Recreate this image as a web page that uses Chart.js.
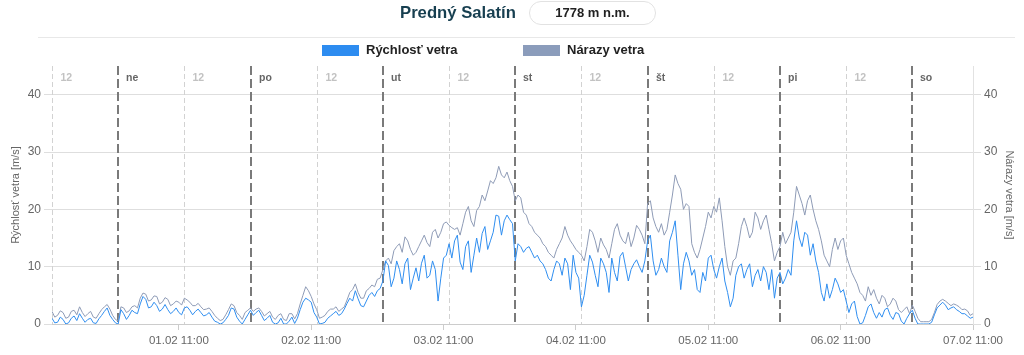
<!DOCTYPE html>
<html><head><meta charset="utf-8">
<script src="https://cdn.jsdelivr.net/npm/chart.js@4/dist/chart.umd.min.js"></script>
<style>
html,body{margin:0;padding:0;background:#fff;width:1024px;height:355px;overflow:hidden;font-family:"Liberation Sans",Arial,Helvetica,sans-serif;}
#wrap{position:relative;width:1024px;height:355px;}
canvas{position:absolute;left:0;top:0;}
.title{position:absolute;left:400px;top:4px;font-size:16.7px;font-weight:bold;color:#173f50;line-height:18px;white-space:nowrap;}
.badge{position:absolute;left:529px;top:1px;width:125px;height:22px;border:1px solid #e2e2e2;border-radius:12px;text-align:center;font-size:13px;font-weight:bold;color:#222;line-height:22px;}
.sep{position:absolute;left:38px;top:37px;width:977px;height:1px;background:#e8e8e8;}
.box{position:absolute;top:45px;width:37px;height:11px;}
.lg{position:absolute;top:42px;height:16px;line-height:16px;font-size:13px;font-weight:bold;color:#222;white-space:nowrap;}
</style></head>
<body>
<div id="wrap">
<canvas id="c" width="1024" height="355"></canvas>
<div class="title">Predný Salatín</div>
<div class="badge">1778 m n.m.</div>
<div class="sep"></div>
<div class="box" style="left:322px;background:#2d8cf0"></div>
<div class="lg" style="left:366px">Rýchlosť vetra</div>
<div class="box" style="left:523px;background:#8b9cbb"></div>
<div class="lg" style="left:567px">Nárazy vetra</div>
</div>
<script>
// half-hourly readings, starting 31.01 12:00 (one line per day segment)
const speed = [
1.0,0.2,0.3,1.2,0.8,0.0,0.2,1.0,1.4,0.6,1.8,1.0,0.3,0.8,1.0,0.2,0.1,0.9,1.5,2.2,2.8,1.5,0.8,0.2,0.0,
2.5,1.8,0.8,1.5,2.4,2.0,1.8,3.5,4.8,4.3,2.8,3.0,3.8,3.2,2.2,2.6,3.4,2.5,1.8,2.2,2.8,2.0,1.6,2.8,3.0,2.4,1.6,2.2,2.6,2.0,1.4,1.6,2.0,1.2,0.5,0.3,0.0,0.2,0.8,1.5,2.8,2.6,1.2,0.5,0.0,0.8,1.6,2.4,
1.5,2.0,2.4,1.5,0.6,1.0,1.5,0.3,0.0,0.2,1.0,0.0,0.0,0.5,1.2,0.1,1.0,2.5,3.8,4.5,4.2,3.8,2.0,1.2,0.0,0.1,0.3,1.0,1.4,1.8,2.2,1.5,1.8,2.6,3.6,4.5,4.0,5.8,4.4,3.2,3.0,4.0,5.0,5.5,4.8,5.8,6.2,7.5,
11.0,10.2,6.5,8.0,11.0,9.5,7.0,10.5,11.5,6.0,8.0,9.8,7.5,10.6,12.0,8.0,8.5,11.0,9.5,4.0,8.0,11.5,12.0,14.0,11.5,14.5,15.5,10.8,9.5,13.5,14.5,9.0,12.0,15.0,12.5,15.8,17.0,13.0,14.5,16.0,19.0,18.8,15.5,18.0,19.0,18.2,17.5,11.0,
14.0,13.5,12.5,13.2,13.5,12.5,11.5,12.0,11.0,10.5,9.5,8.0,7.5,9.5,11.0,10.5,8.5,11.5,10.5,6.0,12.0,9.0,8.0,3.0,5.0,8.5,12.0,10.8,8.5,6.5,11.5,10.5,9.0,5.5,11.5,9.0,7.5,11.8,12.5,10.0,7.5,9.5,10.5,11.2,10.0,9.0,11.0,14.5,
15.5,11.0,8.5,9.5,11.5,10.0,9.0,14.5,16.0,18.0,12.0,6.0,10.5,12.5,11.0,8.5,9.5,6.0,5.5,9.0,7.5,11.5,12.0,9.5,8.0,10.0,11.5,7.5,5.5,3.0,4.5,8.5,10.0,10.5,8.0,9.5,10.5,6.5,8.5,9.5,7.5,10.0,9.0,6.0,9.5,4.5,8.0,9.0,
7.0,8.0,9.5,8.5,14.5,18.0,15.0,13.5,16.0,15.5,12.0,14.0,11.0,9.0,5.5,4.0,7.0,4.5,6.0,8.0,7.0,5.5,6.0,4.0,2.0,3.5,4.0,1.3,0.0,0.2,1.5,3.0,3.5,2.0,1.0,2.0,1.2,2.5,2.8,1.5,0.8,2.0,1.8,0.5,0.0,1.0,1.8,2.4,
1.0,0.0,0.0,0.0,0.0,0.0,0.3,1.6,2.8,3.3,3.8,3.3,2.5,2.8,3.0,2.5,2.2,1.8,1.8,1.4,1.0,1.2
];
const gust = [
2.2,1.2,1.5,2.3,2.0,1.0,1.2,2.2,2.4,1.6,3.0,2.0,1.3,1.8,2.2,1.2,1.0,1.8,2.5,3.0,3.4,2.6,1.5,0.8,0.5,
3.0,2.8,2.0,2.3,3.0,3.2,2.8,4.5,5.4,5.2,4.0,4.2,4.9,4.8,3.5,3.8,4.6,4.3,3.2,3.5,4.0,3.8,3.3,4.5,4.2,3.8,3.2,3.2,3.6,3.0,2.5,2.6,2.8,2.2,1.5,1.0,0.6,0.8,1.6,2.5,3.5,3.2,2.0,1.5,0.8,2.0,2.4,2.8,
2.2,2.6,2.8,2.2,1.4,1.8,2.2,1.2,0.8,1.5,1.8,0.8,0.6,1.8,1.8,0.9,1.8,3.5,5.0,6.5,5.8,4.8,3.5,2.5,1.0,1.2,1.5,2.2,2.6,2.6,3.0,2.2,2.6,3.0,4.2,5.5,6.0,7.0,5.5,4.5,4.5,5.8,6.2,6.8,6.5,7.8,8.0,9.5,
11.0,11.5,10.5,12.8,13.5,14.0,12.5,15.2,14.5,13.0,12.0,12.5,13.5,14.5,15.5,14.2,13.5,16.0,16.5,15.0,16.0,17.5,17.8,17.2,16.8,16.5,16.8,15.5,17.5,19.5,20.5,18.0,17.0,19.8,20.5,22.5,21.5,23.2,25.0,24.5,25.5,27.5,26.0,25.5,26.5,25.0,24.0,21.5,
22.5,22.0,19.5,19.0,17.5,17.0,16.0,15.5,15.0,14.0,13.5,12.5,12.0,11.5,13.0,14.0,15.0,17.0,15.5,14.5,13.8,13.0,12.5,12.0,11.0,13.5,16.5,16.0,14.5,12.5,15.0,13.8,13.0,11.5,14.0,16.5,17.5,15.5,14.5,14.0,16.0,13.5,15.0,17.2,16.5,15.5,14.0,21.0,
21.5,18.5,17.0,16.0,17.5,15.5,16.5,19.5,22.5,26.0,24.5,23.5,20.0,21.0,20.5,14.0,12.5,11.5,13.0,15.0,17.0,19.5,18.5,20.5,19.5,22.0,18.0,13.5,10.0,8.5,11.0,11.5,14.0,17.0,18.5,17.0,15.0,16.0,19.5,18.5,16.5,18.0,19.0,16.5,14.0,11.0,12.5,13.5,
16.0,14.0,15.0,16.0,19.5,24.0,22.5,21.0,19.0,21.5,22.5,20.0,18.0,16.5,14.5,12.0,11.0,10.0,13.0,15.0,13.0,14.5,15.0,12.0,10.5,9.0,8.0,7.0,5.5,5.0,4.0,6.5,5.0,6.0,4.5,3.5,5.0,4.5,3.0,3.5,4.5,4.0,2.5,2.0,2.5,3.0,1.8,3.3,
2.2,1.0,0.4,0.4,0.4,0.4,0.8,2.0,3.4,4.0,4.3,4.0,3.6,3.2,3.5,3.3,3.0,2.5,2.6,2.3,1.5,1.8
];
const stepHours = 0.5;
const tickHours = [23,47,71,95,119,143,167];
const tickLabels = ['01.02 11:00','02.02 11:00','03.02 11:00','04.02 11:00','05.02 11:00','06.02 11:00','07.02 11:00'];
const dayHours = [12,36,60,84,108,132,156];
const dayLabels = ['ne','po','ut','st','št','pi','so'];
const noonHours = [0,24,48,72,96,120,144];
const yTicks = [0,10,20,30,40];

const FONT = '"Liberation Sans", Arial, Helvetica, sans-serif';

const markers = {
  id:'markers',
  beforeDatasetsDraw(chart){
    const {ctx, chartArea:{top,bottom}, scales:{x}} = chart;
    ctx.save();
    ctx.font = 'bold 10.5px ' + FONT;
    ctx.textBaseline = 'middle';
    noonHours.forEach(h=>{
      const px = Math.round(x.getPixelForValue(h)) + 0.5;
      ctx.strokeStyle = '#d2d2d2'; ctx.lineWidth = 1; ctx.setLineDash([5,3]);
      ctx.beginPath(); ctx.moveTo(px, top); ctx.lineTo(px, bottom); ctx.stroke();
      ctx.fillStyle = '#c2c2c2'; ctx.fillText('12', px + 8, top + 12);
    });
    dayHours.forEach((h,i)=>{
      const px = Math.round(x.getPixelForValue(h));
      ctx.strokeStyle = '#7a7a7a'; ctx.lineWidth = 2; ctx.setLineDash([9,4]);
      ctx.beginPath(); ctx.moveTo(px, top); ctx.lineTo(px, bottom); ctx.stroke();
      ctx.fillStyle = '#666'; ctx.fillText(dayLabels[i], px + 8, top + 12);
    });
    ctx.restore();
  }
};

new Chart(document.getElementById('c'), {
  type:'line',
  data:{
    datasets:[
      {label:'Rýchlosť vetra', data: speed.map((v,i)=>({x:i*stepHours,y:v})), borderColor:'#2f8ef0', borderWidth:1, pointRadius:0, yAxisID:'y', tension:0},
      {label:'Nárazy vetra', data: gust.map((v,i)=>({x:i*stepHours,y:v})), borderColor:'#8e9bb6', borderWidth:1, pointRadius:0, yAxisID:'y1', tension:0}
    ]
  },
  options:{
    responsive:false, animation:false, devicePixelRatio:1,
    layout:{padding:{top:66,left:0,right:0,bottom:0}},
    plugins:{legend:{display:false}, title:{display:false}, tooltip:{enabled:false}},
    scales:{
      x:{type:'linear', min:0, max:167,
        afterBuildTicks:s=>{s.ticks = tickHours.map(v=>({value:v}));},
        ticks:{autoSkip:false, maxRotation:0, color:'#666', font:{family:FONT,size:11.5}, padding:4, callback:(v,i)=>tickLabels[i]},
        grid:{drawOnChartArea:false, drawTicks:true, tickLength:6, color:'#ccc'},
        border:{display:true, color:'#ccc'},
        afterFit:s=>{s.height = 31;}
      },
      y:{position:'left', min:0, max:45,
        afterBuildTicks:s=>{s.ticks = yTicks.map(v=>({value:v}));},
        ticks:{color:'#666', font:{family:FONT,size:12}, padding:3},
        grid:{color:'#dedede', tickLength:8},
        border:{display:false},
        title:{display:true, text:'Rýchlosť vetra [m/s]', color:'#666', font:{family:FONT,size:11}, padding:{top:9.5,bottom:0}},
        afterFit:s=>{s.width = 52;}
      },
      y1:{position:'right', min:0, max:45,
        afterBuildTicks:s=>{s.ticks = yTicks.map(v=>({value:v}));},
        ticks:{color:'#666', font:{family:FONT,size:12}, padding:3},
        grid:{drawOnChartArea:false, color:'#dedede', tickLength:8},
        border:{display:true, color:'#e2e2e2'},
        title:{display:true, text:'Nárazy vetra [m/s]', color:'#666', font:{family:FONT,size:11}, padding:{top:8.7,bottom:0}},
        afterFit:s=>{s.width = 51;}
      }
    }
  },
  plugins:[markers]
});
</script>
</body></html>
